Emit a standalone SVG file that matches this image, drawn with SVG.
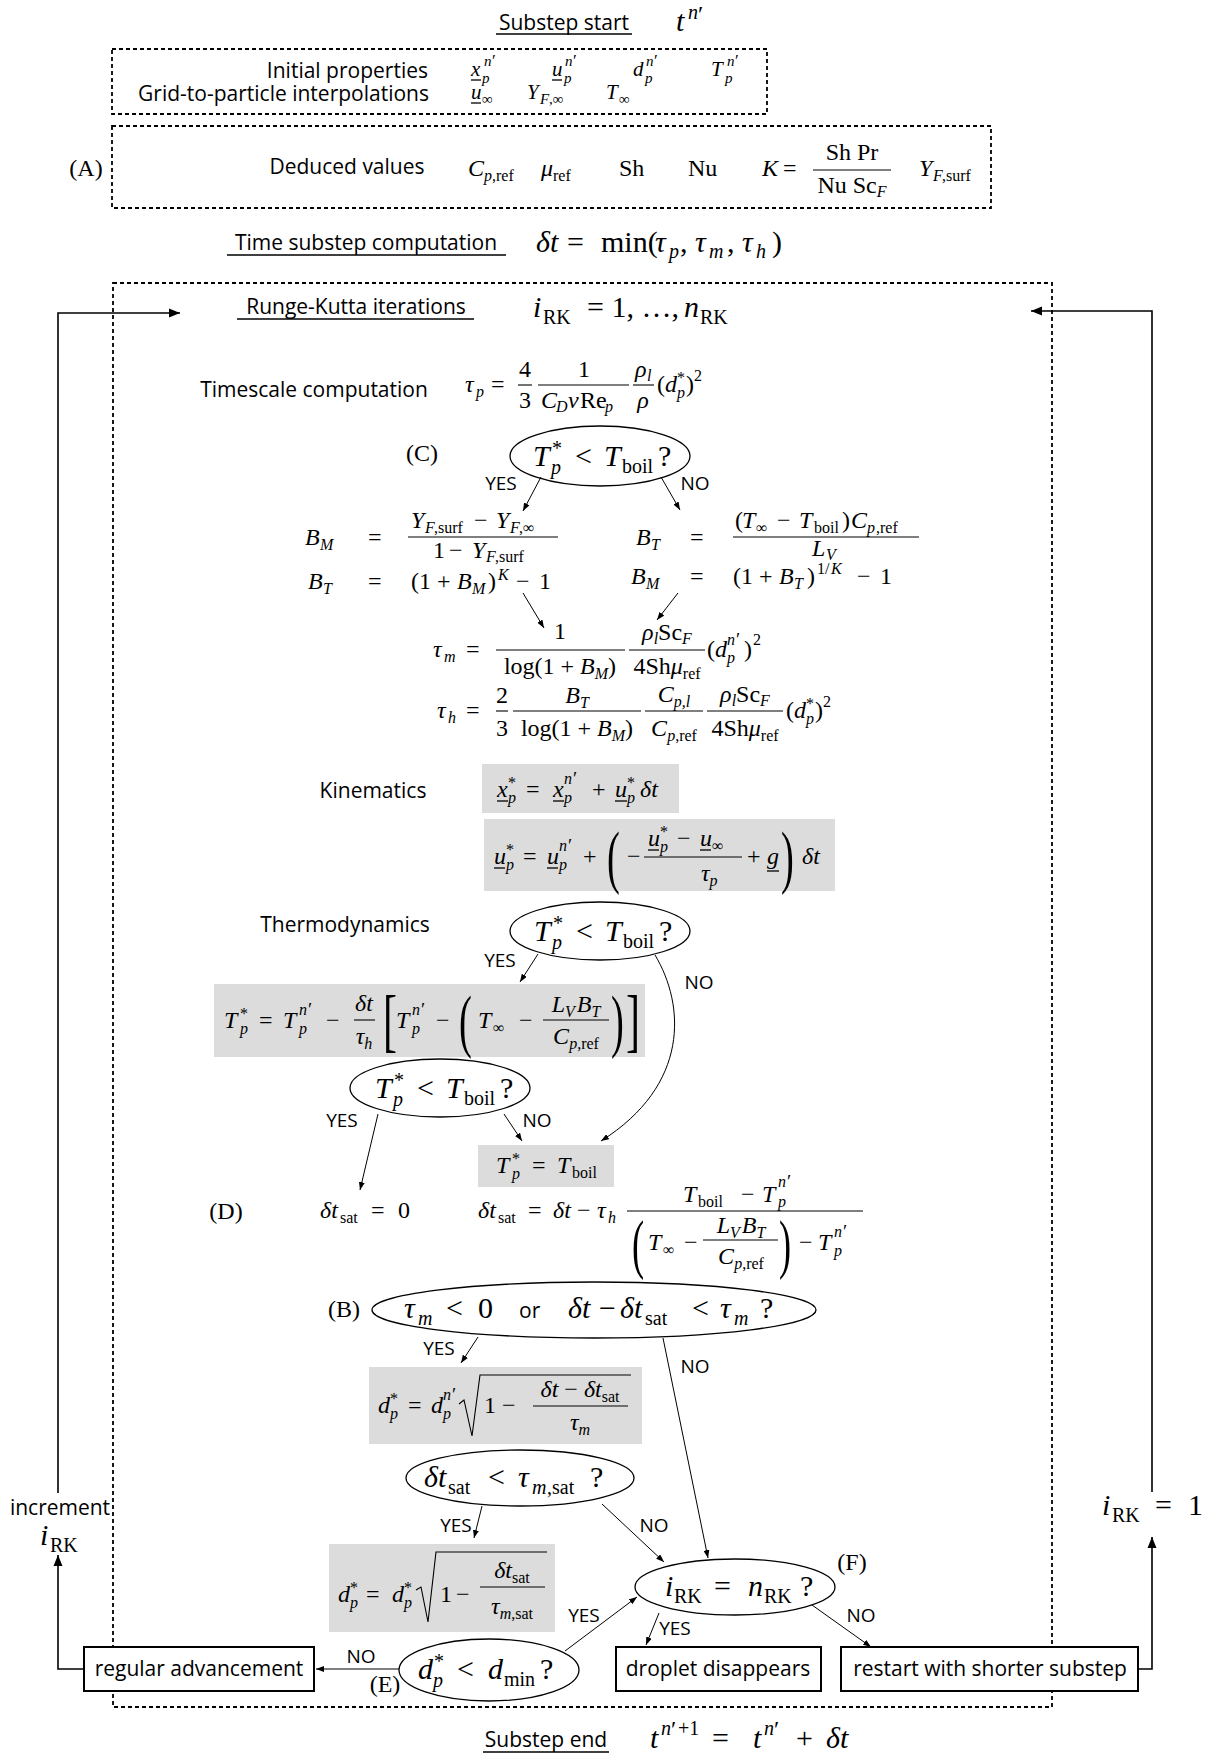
<svg xmlns="http://www.w3.org/2000/svg" width="1226" height="1757" viewBox="0 0 1226 1757">
<style>
.t{font-family:"Open Sans","DejaVu Sans",sans-serif;font-size:21px;fill:#000}
.yn{font-family:"Open Sans","DejaVu Sans",sans-serif;font-size:19px;fill:#000}
.m{font-family:"Liberation Serif","DejaVu Serif",serif;fill:#000}
.i{font-style:italic}
.b{font-size:30px}
.bs{font-size:20px}
.n{font-size:24px}
.s{font-size:16px}
.sm{font-size:21px}
.ss{font-size:15px}
.pr{font-size:19px}
.bpr{font-size:24px}
.spr{font-size:17px}
.dash{fill:none;stroke:#000;stroke-width:1.8;stroke-dasharray:4 3}
.box{fill:#fff;stroke:#000;stroke-width:2}
.gray{fill:#dcdcdc}
.ell{fill:#fff;stroke:#000;stroke-width:1.3}
.c{fill:none;stroke:#000;stroke-width:1}
.lp{fill:none;stroke:#000;stroke-width:1.6}
.ul{stroke:#000;stroke-width:1.3}
.bar{stroke:#000;stroke-width:1.1}
.rad{fill:none;stroke:#000;stroke-width:1.1}
</style>
<defs>
<marker id="ah" markerUnits="userSpaceOnUse" markerWidth="12" markerHeight="10" refX="11" refY="5" orient="auto"><path d="M0,0.5 L11,5 L0,9.5 z" fill="#000"/></marker>
<marker id="as" markerUnits="userSpaceOnUse" markerWidth="8" markerHeight="6" refX="8" refY="3" orient="auto"><path d="M0,0 L8,3 L0,6 z" fill="#000"/></marker>
</defs>
<rect width="1226" height="1757" fill="#fff"/>

<g id="rk-frame">
<rect class="dash" x="113" y="283" width="939" height="1424"/>
</g>

<g id="substep-start">
<text class="t" x="564" y="30" text-anchor="middle">Substep start</text>
<line class="ul" x1="496" y1="34" x2="632" y2="34"/>
<text class="m b"><tspan class="i" x="676" y="31">t</tspan><tspan class="i bs" x="688" y="19">n</tspan><tspan class="bpr" x="698" y="22">′</tspan></text>
</g>

<g id="initial">
<rect class="dash" x="112" y="49" width="655" height="65"/>
<text class="t" x="428" y="78" text-anchor="end">Initial properties</text>
<text class="t" x="429" y="101" text-anchor="end">Grid-to-particle interpolations</text>
<text class="m sm"><tspan class="i" x="471" y="76">x</tspan><tspan class="i ss" x="482" y="83">p</tspan><tspan class="i ss" x="484" y="66">n</tspan><tspan class="spr" x="492" y="66">′</tspan><tspan class="i" x="552" y="76">u</tspan><tspan class="i ss" x="564" y="83">p</tspan><tspan class="i ss" x="565" y="66">n</tspan><tspan class="spr" x="573" y="66">′</tspan><tspan class="i" x="633" y="76">d</tspan><tspan class="i ss" x="645" y="83">p</tspan><tspan class="i ss" x="646" y="66">n</tspan><tspan class="spr" x="654" y="66">′</tspan><tspan class="i" x="711" y="76">T</tspan><tspan class="i ss" x="725" y="83">p</tspan><tspan class="i ss" x="727" y="66">n</tspan><tspan class="spr" x="735" y="66">′</tspan><tspan class="i" x="471" y="99">u</tspan><tspan class="ss" x="482" y="104">∞</tspan><tspan class="i" x="527" y="99">Y</tspan><tspan class="i ss" x="540" y="104">F</tspan><tspan class="ss" x="549" y="104">,∞</tspan><tspan class="i" x="606" y="99">T</tspan><tspan class="ss" x="619" y="104">∞</tspan></text>
<line class="ul" x1="471" y1="80" x2="481" y2="80"/>
<line class="ul" x1="552" y1="80" x2="562" y2="80"/>
<line class="ul" x1="471" y1="103" x2="481" y2="103"/>
</g>

<g id="deduced">
<rect class="dash" x="112" y="126" width="879" height="82"/>
<text class="m n" x="86" y="176" text-anchor="middle">(A)</text>
<text class="t" x="347" y="174" text-anchor="middle">Deduced values</text>
<text class="m n"><tspan class="i" x="468" y="176">C</tspan><tspan class="i s" x="484" y="181">p</tspan><tspan class="s" x="492" y="181">,ref</tspan><tspan class="i" x="541" y="176">μ</tspan><tspan class="s" x="553" y="181">ref</tspan><tspan x="619" y="176">Sh</tspan><tspan x="688" y="176">Nu</tspan><tspan class="i" x="762" y="176">K</tspan><tspan x="783" y="176">=</tspan><tspan class="i" x="919" y="176">Y</tspan><tspan class="i s" x="933" y="181">F</tspan><tspan class="s" x="942" y="181">,surf</tspan></text>
<text class="m n" x="852" y="160" text-anchor="middle">Sh Pr</text>
<text class="m n" x="852" y="193" text-anchor="middle">Nu Sc<tspan class="i s" dy="4">F</tspan></text>
<line class="bar" x1="813" y1="170" x2="891" y2="170"/>
</g>

<g id="time-substep">
<text class="t" x="366" y="250" text-anchor="middle">Time substep computation</text>
<line class="ul" x1="227" y1="255" x2="506" y2="255"/>
<text class="m b"><tspan class="i" x="536" y="252">δt</tspan><tspan x="567" y="252">=</tspan><tspan x="601" y="252">min(</tspan><tspan class="i" x="655" y="252">τ</tspan><tspan class="i bs" x="669" y="258">p</tspan><tspan x="680" y="252">,</tspan><tspan class="i" x="695" y="252">τ</tspan><tspan class="i bs" x="709" y="258">m</tspan><tspan x="727" y="252">,</tspan><tspan class="i" x="742" y="252">τ</tspan><tspan class="i bs" x="756" y="258">h</tspan><tspan x="772" y="252">)</tspan></text>
</g>

<g id="rk-header">
<text class="t" x="356" y="314" text-anchor="middle">Runge-Kutta iterations</text>
<line class="ul" x1="237" y1="319" x2="474" y2="319"/>
<text class="m b"><tspan class="i" x="533" y="317">i</tspan><tspan class="bs" x="543" y="324">RK</tspan><tspan x="587" y="317">= 1, …,</tspan><tspan class="i" x="684" y="317">n</tspan><tspan class="bs" x="700" y="324">RK</tspan></text>
</g>

<g id="timescale">
<text class="t" x="314" y="397" text-anchor="middle">Timescale computation</text>
<text class="m n"><tspan class="i" x="465" y="392">τ</tspan><tspan class="i s" x="476" y="397">p</tspan><tspan x="491" y="392">=</tspan></text>
<text class="m n" x="525" y="377" text-anchor="middle">4</text>
<text class="m n" x="525" y="408" text-anchor="middle">3</text>
<line class="bar" x1="518" y1="385" x2="532" y2="385"/>
<text class="m n" x="584" y="377" text-anchor="middle">1</text>
<text class="m n"><tspan class="i" x="541" y="408">C</tspan><tspan class="i s" x="556" y="412">D</tspan><tspan class="i" x="568" y="408">ν</tspan><tspan x="580" y="408">Re</tspan><tspan class="i s" x="605" y="412">p</tspan></text>
<line class="bar" x1="538" y1="385" x2="629" y2="385"/>
<text class="m n"><tspan class="i" x="635" y="377">ρ</tspan><tspan class="i s" x="647" y="381">l</tspan></text>
<text class="m n i" x="643" y="408" text-anchor="middle">ρ</text>
<line class="bar" x1="633" y1="385" x2="654" y2="385"/>
<text class="m n"><tspan x="657" y="392">(</tspan><tspan class="i" x="665" y="392">d</tspan><tspan class="i s" x="677" y="398">p</tspan><tspan class="s" x="677" y="383">*</tspan><tspan x="686" y="392">)</tspan><tspan class="s" x="694" y="381">2</tspan></text>
</g>

<g id="cond-c">
<text class="m n" x="422" y="461" text-anchor="middle">(C)</text>
<ellipse class="ell" cx="600" cy="456" rx="90" ry="30"/>
<text class="m b"><tspan class="i" x="533" y="466">T</tspan><tspan class="bs" x="552" y="455">*</tspan><tspan class="i bs" x="551" y="474">p</tspan><tspan x="575" y="466">&lt;</tspan><tspan class="i" x="604" y="466">T</tspan><tspan class="bs" x="622" y="473">boil</tspan><tspan x="658" y="466">?</tspan></text>
</g>

<g id="transfer-yes">
<text class="m n"><tspan class="i" x="305" y="545">B</tspan><tspan class="i s" x="320" y="550">M</tspan><tspan x="368" y="545">=</tspan></text>
<text class="m n"><tspan class="i" x="411" y="528">Y</tspan><tspan class="i s" x="425" y="533">F</tspan><tspan class="s" x="434" y="533">,surf</tspan><tspan x="474" y="528">−</tspan><tspan class="i" x="496" y="528">Y</tspan><tspan class="i s" x="510" y="533">F</tspan><tspan class="s" x="519" y="533">,∞</tspan></text>
<line class="bar" x1="408" y1="537" x2="558" y2="537"/>
<text class="m n"><tspan x="433" y="558">1</tspan><tspan x="449" y="558">−</tspan><tspan class="i" x="472" y="558">Y</tspan><tspan class="i s" x="486" y="562">F</tspan><tspan class="s" x="495" y="562">,surf</tspan></text>
<text class="m n"><tspan class="i" x="308" y="589">B</tspan><tspan class="i s" x="323" y="594">T</tspan><tspan x="368" y="589">=</tspan><tspan x="411" y="589">(1 +</tspan><tspan class="i" x="457" y="589">B</tspan><tspan class="i s" x="472" y="594">M</tspan><tspan x="488" y="589">)</tspan><tspan class="i s" x="498" y="580">K</tspan><tspan x="516" y="589">−</tspan><tspan x="539" y="589">1</tspan></text>
</g>

<g id="transfer-no">
<text class="m n"><tspan class="i" x="636" y="545">B</tspan><tspan class="i s" x="651" y="550">T</tspan><tspan x="690" y="545">=</tspan></text>
<text class="m n"><tspan x="735" y="528">(</tspan><tspan class="i" x="742" y="528">T</tspan><tspan class="s" x="756" y="533">∞</tspan><tspan x="777" y="528">−</tspan><tspan class="i" x="799" y="528">T</tspan><tspan class="s" x="814" y="533">boil</tspan><tspan x="842" y="528">)</tspan><tspan class="i" x="851" y="528">C</tspan><tspan class="i s" x="867" y="533">p</tspan><tspan class="s" x="876" y="533">,ref</tspan></text>
<line class="bar" x1="733" y1="537" x2="919" y2="537"/>
<text class="m n"><tspan class="i" x="812" y="556">L</tspan><tspan class="i s" x="826" y="560">V</tspan></text>
<text class="m n"><tspan class="i" x="631" y="584">B</tspan><tspan class="i s" x="646" y="589">M</tspan><tspan x="690" y="584">=</tspan><tspan x="733" y="584">(1 +</tspan><tspan class="i" x="779" y="584">B</tspan><tspan class="i s" x="794" y="589">T</tspan><tspan x="807" y="584">)</tspan><tspan class="s" x="817" y="574">1/</tspan><tspan class="i s" x="831" y="574">K</tspan><tspan x="857" y="584">−</tspan><tspan x="880" y="584">1</tspan></text>
</g>

<g id="tau-m">
<text class="m n"><tspan class="i" x="433" y="657">τ</tspan><tspan class="i s" x="444" y="662">m</tspan><tspan x="466" y="657">=</tspan></text>
<text class="m n" x="560" y="639" text-anchor="middle">1</text>
<line class="bar" x1="496" y1="650" x2="625" y2="650"/>
<text class="m n" x="560" y="674" text-anchor="middle">log(1 + <tspan class="i">B</tspan><tspan class="i s" dy="5">M</tspan><tspan dy="-5">)</tspan></text>
<text class="m n" x="667" y="640" text-anchor="middle"><tspan class="i">ρ</tspan><tspan class="i s" dy="4">l</tspan><tspan dy="-4">Sc</tspan><tspan class="i s" dy="4">F</tspan></text>
<line class="bar" x1="629" y1="650" x2="705" y2="650"/>
<text class="m n" x="667" y="674" text-anchor="middle">4Sh<tspan class="i">μ</tspan><tspan class="s" dy="5">ref</tspan></text>
<text class="m n"><tspan x="707" y="657">(</tspan><tspan class="i" x="715" y="657">d</tspan><tspan class="i s" x="727" y="663">p</tspan><tspan class="i s" x="727" y="645">n</tspan><tspan class="pr" x="736" y="646">′</tspan><tspan x="744" y="657">)</tspan><tspan class="s" x="753" y="645">2</tspan></text>
</g>

<g id="tau-h">
<text class="m n"><tspan class="i" x="437" y="718">τ</tspan><tspan class="i s" x="448" y="723">h</tspan><tspan x="466" y="718">=</tspan></text>
<text class="m n" x="502" y="703" text-anchor="middle">2</text>
<line class="bar" x1="496" y1="711" x2="508" y2="711"/>
<text class="m n" x="502" y="736" text-anchor="middle">3</text>
<text class="m n" x="577" y="703" text-anchor="middle"><tspan class="i">B</tspan><tspan class="i s" dy="5">T</tspan></text>
<line class="bar" x1="513" y1="711" x2="641" y2="711"/>
<text class="m n" x="577" y="736" text-anchor="middle">log(1 + <tspan class="i">B</tspan><tspan class="i s" dy="5">M</tspan><tspan dy="-5">)</tspan></text>
<text class="m n" x="674" y="702" text-anchor="middle"><tspan class="i">C</tspan><tspan class="i s" dy="5">p,l</tspan></text>
<line class="bar" x1="645" y1="711" x2="703" y2="711"/>
<text class="m n" x="674" y="736" text-anchor="middle"><tspan class="i">C</tspan><tspan class="i s" dy="5">p</tspan><tspan class="s">,ref</tspan></text>
<text class="m n" x="745" y="702" text-anchor="middle"><tspan class="i">ρ</tspan><tspan class="i s" dy="4">l</tspan><tspan dy="-4">Sc</tspan><tspan class="i s" dy="4">F</tspan></text>
<line class="bar" x1="707" y1="711" x2="783" y2="711"/>
<text class="m n" x="745" y="736" text-anchor="middle">4Sh<tspan class="i">μ</tspan><tspan class="s" dy="5">ref</tspan></text>
<text class="m n"><tspan x="786" y="718">(</tspan><tspan class="i" x="794" y="718">d</tspan><tspan class="i s" x="806" y="724">p</tspan><tspan class="s" x="806" y="709">*</tspan><tspan x="815" y="718">)</tspan><tspan class="s" x="823" y="707">2</tspan></text>
</g>

<g id="kinematics">
<text class="t" x="373" y="798" text-anchor="middle">Kinematics</text>
<rect class="gray" x="482" y="764" width="197" height="49"/>
<text class="m n"><tspan class="i" x="497" y="797">x</tspan><tspan class="i s" x="508" y="803">p</tspan><tspan class="s" x="508" y="788">*</tspan><tspan x="526" y="797">=</tspan><tspan class="i" x="553" y="797">x</tspan><tspan class="i s" x="564" y="803">p</tspan><tspan class="i s" x="564" y="784">n</tspan><tspan class="pr" x="573" y="785">′</tspan><tspan x="592" y="797">+</tspan><tspan class="i" x="615" y="797">u</tspan><tspan class="i s" x="627" y="803">p</tspan><tspan class="s" x="627" y="788">*</tspan><tspan class="i" x="640" y="797">δt</tspan></text>
<line class="ul" x1="497" y1="801" x2="508" y2="801"/>
<line class="ul" x1="553" y1="801" x2="564" y2="801"/>
<line class="ul" x1="615" y1="801" x2="627" y2="801"/>
<rect class="gray" x="484" y="819" width="351" height="72"/>
<text class="m n"><tspan class="i" x="494" y="864">u</tspan><tspan class="i s" x="506" y="870">p</tspan><tspan class="s" x="506" y="855">*</tspan><tspan x="523" y="864">=</tspan><tspan class="i" x="547" y="864">u</tspan><tspan class="i s" x="559" y="870">p</tspan><tspan class="i s" x="559" y="851">n</tspan><tspan class="pr" x="568" y="852">′</tspan><tspan x="583" y="864">+</tspan><tspan x="627" y="864">−</tspan><tspan x="747" y="864">+</tspan><tspan class="i" x="767" y="864">g</tspan><tspan class="i" x="802" y="864">δt</tspan></text>
<line class="ul" x1="494" y1="868" x2="505" y2="868"/>
<line class="ul" x1="547" y1="868" x2="558" y2="868"/>
<line class="ul" x1="767" y1="871" x2="779" y2="871"/>
<text class="m" font-size="70" transform="translate(607,880) scale(0.55,1)">(</text>
<text class="m" font-size="70" transform="translate(781,880) scale(0.55,1)">)</text>
<text class="m n"><tspan class="i" x="648" y="846">u</tspan><tspan class="i s" x="660" y="852">p</tspan><tspan class="s" x="660" y="837">*</tspan><tspan x="677" y="846">−</tspan><tspan class="i" x="700" y="846">u</tspan><tspan class="s" x="712" y="851">∞</tspan></text>
<line class="ul" x1="648" y1="850" x2="659" y2="850"/>
<line class="ul" x1="700" y1="850" x2="711" y2="850"/>
<line class="bar" x1="644" y1="857" x2="742" y2="857"/>
<text class="m n" x="701" y="881"><tspan class="i">τ</tspan><tspan class="i s" dy="5">p</tspan></text>
</g>

<g id="thermo">
<text class="t" x="345" y="932" text-anchor="middle">Thermodynamics</text>
</g>

<g id="cond-boil-1">
<ellipse class="ell" cx="600" cy="931" rx="90" ry="29"/>
<text class="m b"><tspan class="i" x="534" y="941">T</tspan><tspan class="bs" x="553" y="930">*</tspan><tspan class="i bs" x="552" y="949">p</tspan><tspan x="576" y="941">&lt;</tspan><tspan class="i" x="605" y="941">T</tspan><tspan class="bs" x="623" y="948">boil</tspan><tspan x="659" y="941">?</tspan></text>
</g>

<g id="temp-update">
<rect class="gray" x="214" y="984" width="431" height="73"/>
<text class="m n"><tspan class="i" x="224" y="1028">T</tspan><tspan class="i s" x="240" y="1034">p</tspan><tspan class="s" x="240" y="1019">*</tspan><tspan x="259" y="1028">=</tspan><tspan class="i" x="283" y="1028">T</tspan><tspan class="i s" x="299" y="1034">p</tspan><tspan class="i s" x="299" y="1015">n</tspan><tspan class="pr" x="308" y="1016">′</tspan><tspan x="326" y="1028">−</tspan><tspan class="i" x="396" y="1028">T</tspan><tspan class="i s" x="412" y="1034">p</tspan><tspan class="i s" x="412" y="1015">n</tspan><tspan class="pr" x="421" y="1016">′</tspan><tspan x="436" y="1028">−</tspan><tspan class="i" x="478" y="1028">T</tspan><tspan class="s" x="493" y="1033">∞</tspan><tspan x="519" y="1028">−</tspan></text>
<text class="m n" x="364" y="1011" text-anchor="middle"><tspan class="i">δt</tspan></text>
<line class="bar" x1="354" y1="1020" x2="375" y2="1020"/>
<text class="m n" x="364" y="1044" text-anchor="middle"><tspan class="i">τ</tspan><tspan class="i s" dy="5">h</tspan></text>
<text class="m" font-size="70" transform="translate(383,1044) scale(0.6,1)">[</text>
<text class="m" font-size="70" transform="translate(626,1044) scale(0.6,1)">]</text>
<text class="m" font-size="70" transform="translate(459,1044) scale(0.55,1)">(</text>
<text class="m" font-size="70" transform="translate(611,1044) scale(0.55,1)">)</text>
<text class="m n" x="576" y="1012" text-anchor="middle"><tspan class="i">L</tspan><tspan class="i s" dy="5">V</tspan><tspan class="i" dy="-5" dx="2">B</tspan><tspan class="i s" dy="5">T</tspan></text>
<line class="bar" x1="543" y1="1020" x2="609" y2="1020"/>
<text class="m n" x="576" y="1044" text-anchor="middle"><tspan class="i">C</tspan><tspan class="i s" dy="5">p</tspan><tspan class="s">,ref</tspan></text>
</g>

<g id="cond-boil-2">
<ellipse class="ell" cx="440" cy="1088" rx="90" ry="29"/>
<text class="m b"><tspan class="i" x="375" y="1098">T</tspan><tspan class="bs" x="394" y="1087">*</tspan><tspan class="i bs" x="393" y="1106">p</tspan><tspan x="417" y="1098">&lt;</tspan><tspan class="i" x="446" y="1098">T</tspan><tspan class="bs" x="464" y="1105">boil</tspan><tspan x="500" y="1098">?</tspan></text>
</g>

<g id="temp-boil">
<rect class="gray" x="478" y="1145" width="136" height="42"/>
<text class="m n"><tspan class="i" x="496" y="1173">T</tspan><tspan class="i s" x="512" y="1179">p</tspan><tspan class="s" x="512" y="1164">*</tspan><tspan x="532" y="1173">=</tspan><tspan class="i" x="557" y="1173">T</tspan><tspan class="s" x="572" y="1178">boil</tspan></text>
</g>

<g id="sat-time">
<text class="m n" x="226" y="1219" text-anchor="middle">(D)</text>
<text class="m n"><tspan class="i" x="320" y="1218">δt</tspan><tspan class="s" x="340" y="1223">sat</tspan><tspan x="371" y="1218">=</tspan><tspan x="398" y="1218">0</tspan></text>
<text class="m n"><tspan class="i" x="478" y="1218">δt</tspan><tspan class="s" x="498" y="1223">sat</tspan><tspan x="528" y="1218">=</tspan><tspan class="i" x="553" y="1218">δt</tspan><tspan x="577" y="1218">−</tspan><tspan class="i" x="597" y="1218">τ</tspan><tspan class="i s" x="608" y="1223">h</tspan></text>
<line class="bar" x1="627" y1="1211" x2="863" y2="1211"/>
<text class="m n"><tspan class="i" x="683" y="1202">T</tspan><tspan class="s" x="698" y="1207">boil</tspan><tspan x="741" y="1202">−</tspan><tspan class="i" x="762" y="1202">T</tspan><tspan class="i s" x="778" y="1207">p</tspan><tspan class="i s" x="778" y="1187">n</tspan><tspan class="pr" x="787" y="1188">′</tspan></text>
<text class="m" font-size="66" transform="translate(632,1266) scale(0.55,1)">(</text>
<text class="m" font-size="66" transform="translate(779,1266) scale(0.55,1)">)</text>
<text class="m n"><tspan class="i" x="648" y="1250">T</tspan><tspan class="s" x="663" y="1255">∞</tspan><tspan x="684" y="1250">−</tspan><tspan x="799" y="1250">−</tspan><tspan class="i" x="818" y="1250">T</tspan><tspan class="i s" x="834" y="1256">p</tspan><tspan class="i s" x="834" y="1237">n</tspan><tspan class="pr" x="843" y="1238">′</tspan></text>
<text class="m n" x="741" y="1233" text-anchor="middle"><tspan class="i">L</tspan><tspan class="i s" dy="5">V</tspan><tspan class="i" dy="-5" dx="2">B</tspan><tspan class="i s" dy="5">T</tspan></text>
<line class="bar" x1="703" y1="1240" x2="778" y2="1240"/>
<text class="m n" x="741" y="1264" text-anchor="middle"><tspan class="i">C</tspan><tspan class="i s" dy="5">p</tspan><tspan class="s">,ref</tspan></text>
</g>

<g id="cond-b">
<text class="m n" x="344" y="1317" text-anchor="middle">(B)</text>
<ellipse class="ell" cx="594" cy="1310" rx="222" ry="28"/>
<text class="m b"><tspan class="i" x="404" y="1318">τ</tspan><tspan class="i bs" x="418" y="1325">m</tspan><tspan x="446" y="1318">&lt;</tspan><tspan x="478" y="1318">0</tspan><tspan class="i" x="568" y="1318">δt</tspan><tspan x="599" y="1318">−</tspan><tspan class="i" x="620" y="1318">δt</tspan><tspan class="bs" x="645" y="1325">sat</tspan><tspan x="692" y="1318">&lt;</tspan><tspan class="i" x="720" y="1318">τ</tspan><tspan class="i bs" x="734" y="1325">m</tspan><tspan x="760" y="1318">?</tspan></text>
<text class="t" x="519" y="1318">or</text>
</g>

<g id="diam-update-1">
<rect class="gray" x="369" y="1367" width="273" height="77"/>
<text class="m n"><tspan class="i" x="378" y="1413">d</tspan><tspan class="i s" x="390" y="1419">p</tspan><tspan class="s" x="390" y="1404">*</tspan><tspan x="408" y="1413">=</tspan><tspan class="i" x="431" y="1413">d</tspan><tspan class="i s" x="443" y="1419">p</tspan><tspan class="i s" x="443" y="1400">n</tspan><tspan class="pr" x="452" y="1401">′</tspan><tspan x="484" y="1413">1</tspan><tspan x="502" y="1413">−</tspan></text>
<path class="rad" d="M459,1404 L464,1400 L472,1436 L480,1375 L631,1375"/>
<text class="m n" x="580" y="1397" text-anchor="middle"><tspan class="i">δt</tspan> − <tspan class="i">δt</tspan><tspan class="s" dy="5">sat</tspan></text>
<line class="bar" x1="533" y1="1406" x2="628" y2="1406"/>
<text class="m n" x="580" y="1430" text-anchor="middle"><tspan class="i">τ</tspan><tspan class="i s" dy="5">m</tspan></text>
</g>

<g id="cond-sat">
<ellipse class="ell" cx="520" cy="1478" rx="114" ry="28"/>
<text class="m b"><tspan class="i" x="424" y="1487">δt</tspan><tspan class="bs" x="448" y="1494">sat</tspan><tspan x="488" y="1487">&lt;</tspan><tspan class="i" x="518" y="1487">τ</tspan><tspan class="i bs" x="532" y="1494">m</tspan><tspan class="bs" x="547" y="1494">,sat</tspan><tspan x="590" y="1487">?</tspan></text>
</g>

<g id="diam-update-2">
<rect class="gray" x="329" y="1544" width="226" height="88"/>
<text class="m n"><tspan class="i" x="338" y="1602">d</tspan><tspan class="i s" x="350" y="1608">p</tspan><tspan class="s" x="350" y="1593">*</tspan><tspan x="366" y="1602">=</tspan><tspan class="i" x="392" y="1602">d</tspan><tspan class="i s" x="404" y="1608">p</tspan><tspan class="s" x="404" y="1593">*</tspan><tspan x="440" y="1602">1</tspan><tspan x="456" y="1602">−</tspan></text>
<path class="rad" d="M416,1590 L421,1587 L428,1622 L436,1552 L547,1552"/>
<text class="m n" x="512" y="1578" text-anchor="middle"><tspan class="i">δt</tspan><tspan class="s" dy="5">sat</tspan></text>
<line class="bar" x1="480" y1="1587" x2="545" y2="1587"/>
<text class="m n" x="512" y="1614" text-anchor="middle"><tspan class="i">τ</tspan><tspan class="i s" dy="5">m</tspan><tspan class="s">,sat</tspan></text>
</g>

<g id="cond-last">
<text class="m n" x="852" y="1570" text-anchor="middle">(F)</text>
<ellipse class="ell" cx="735" cy="1587" rx="100" ry="28"/>
<text class="m b"><tspan class="i" x="665" y="1596">i</tspan><tspan class="bs" x="674" y="1603">RK</tspan><tspan x="714" y="1596">=</tspan><tspan class="i" x="748" y="1596">n</tspan><tspan class="bs" x="764" y="1603">RK</tspan><tspan x="800" y="1596">?</tspan></text>
</g>

<g id="cond-dmin">
<text class="m n" x="385" y="1692" text-anchor="middle">(E)</text>
<ellipse class="ell" cx="489" cy="1670" rx="90" ry="31"/>
<text class="m b"><tspan class="i" x="418" y="1679">d</tspan><tspan class="bs" x="434" y="1668">*</tspan><tspan class="i bs" x="433" y="1687">p</tspan><tspan x="457" y="1679">&lt;</tspan><tspan class="i" x="488" y="1679">d</tspan><tspan class="bs" x="504" y="1686">min</tspan><tspan x="540" y="1679">?</tspan></text>
</g>

<g id="regular">
<rect class="box" x="84" y="1647" width="230" height="44"/>
<text class="t" x="199" y="1676" text-anchor="middle">regular advancement</text>
</g>
<g id="disappears">
<rect class="box" x="616" y="1647" width="205" height="44"/>
<text class="t" x="718" y="1676" text-anchor="middle">droplet disappears</text>
</g>
<g id="restart">
<rect class="box" x="841" y="1647" width="297" height="44"/>
<text class="t" x="990" y="1676" text-anchor="middle">restart with shorter substep</text>
</g>

<g id="substep-end">
<text class="t" x="546" y="1747" text-anchor="middle">Substep end</text>
<line class="ul" x1="483" y1="1752" x2="609" y2="1752"/>
<text class="m b"><tspan class="i" x="650" y="1748">t</tspan><tspan class="i bs" x="661" y="1735">n</tspan><tspan class="bpr" x="671" y="1737">′</tspan><tspan class="bs" x="678" y="1735">+1</tspan><tspan x="712" y="1748">=</tspan><tspan class="i" x="753" y="1748">t</tspan><tspan class="i bs" x="764" y="1735">n</tspan><tspan class="bpr" x="774" y="1737">′</tspan><tspan x="796" y="1748">+</tspan><tspan class="i" x="826" y="1748">δt</tspan></text>
</g>

<g id="connectors">
<line class="c" x1="541" y1="477" x2="523" y2="511" marker-end="url(#as)"/>
<line class="c" x1="661" y1="477" x2="680" y2="510" marker-end="url(#as)"/>
<line class="c" x1="523" y1="593" x2="544" y2="628" marker-end="url(#as)"/>
<line class="c" x1="678" y1="593" x2="657" y2="620" marker-end="url(#as)"/>
<line class="c" x1="538" y1="954" x2="520" y2="982" marker-end="url(#as)"/>
<path class="c" d="M655,955 C685,1005 690,1085 601,1141" marker-end="url(#as)"/>
<line class="c" x1="378" y1="1114" x2="360" y2="1190" marker-end="url(#as)"/>
<line class="c" x1="504" y1="1114" x2="522" y2="1141" marker-end="url(#as)"/>
<line class="c" x1="478" y1="1337" x2="461" y2="1363" marker-end="url(#as)"/>
<line class="c" x1="663" y1="1338" x2="708" y2="1558" marker-end="url(#as)"/>
<line class="c" x1="482" y1="1506" x2="474" y2="1538" marker-end="url(#as)"/>
<line class="c" x1="602" y1="1504" x2="664" y2="1562" marker-end="url(#as)"/>
<line class="c" x1="659" y1="1613" x2="646" y2="1645" marker-end="url(#as)"/>
<line class="c" x1="812" y1="1605" x2="871" y2="1647" marker-end="url(#as)"/>
<line class="c" x1="565" y1="1651" x2="637" y2="1597" marker-end="url(#as)"/>
<line class="c" x1="399" y1="1669" x2="316" y2="1669" marker-end="url(#as)"/>
<path class="lp" d="M84,1669 H58 V1555" marker-end="url(#ah)"/>
<path class="lp" d="M58,1493 V313 H180" marker-end="url(#ah)"/>
<path class="lp" d="M1138,1669 H1152 V1537" marker-end="url(#ah)"/>
<path class="lp" d="M1152,1492 V311 H1031" marker-end="url(#ah)"/>
<text class="yn" x="501" y="490" text-anchor="middle">YES</text>
<text class="yn" x="695" y="490" text-anchor="middle">NO</text>
<text class="yn" x="500" y="967" text-anchor="middle">YES</text>
<text class="yn" x="699" y="989" text-anchor="middle">NO</text>
<text class="yn" x="342" y="1127" text-anchor="middle">YES</text>
<text class="yn" x="537" y="1127" text-anchor="middle">NO</text>
<text class="yn" x="439" y="1355" text-anchor="middle">YES</text>
<text class="yn" x="695" y="1373" text-anchor="middle">NO</text>
<text class="yn" x="456" y="1532" text-anchor="middle">YES</text>
<text class="yn" x="654" y="1532" text-anchor="middle">NO</text>
<text class="yn" x="584" y="1622" text-anchor="middle">YES</text>
<text class="yn" x="675" y="1635" text-anchor="middle">YES</text>
<text class="yn" x="861" y="1622" text-anchor="middle">NO</text>
<text class="yn" x="361" y="1663" text-anchor="middle">NO</text>
<text class="t" x="60" y="1515" text-anchor="middle">increment</text>
<text class="m b"><tspan class="i" x="40" y="1545">i</tspan><tspan class="bs" x="50" y="1552">RK</tspan></text>
<text class="m b"><tspan class="i" x="1102" y="1515">i</tspan><tspan class="bs" x="1112" y="1522">RK</tspan><tspan x="1155" y="1515">=</tspan><tspan x="1188" y="1515">1</tspan></text>
</g>
</svg>
